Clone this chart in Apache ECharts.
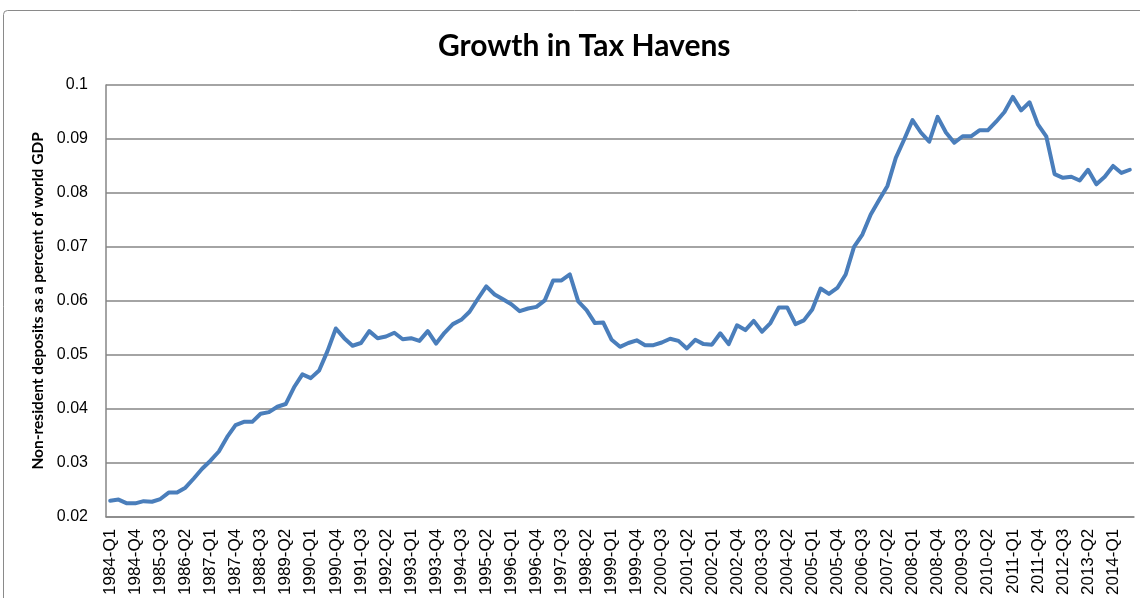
<!DOCTYPE html>
<html>
<head>
<meta charset="utf-8">
<script src="https://cdn.jsdelivr.net/npm/echarts@6/dist/echarts.min.js"></script>
<style>
html,body{margin:0;padding:0;background:#fff;}
#chart{width:1140px;height:598px;}
</style>
</head>
<body>
<div id="chart"></div>
<script>
// Quarter categories 1984-Q1 .. 2014-Q3
var categories = [
"1984-Q1","1984-Q2","1984-Q3","1984-Q4",
"1985-Q1","1985-Q2","1985-Q3","1985-Q4",
"1986-Q1","1986-Q2","1986-Q3","1986-Q4",
"1987-Q1","1987-Q2","1987-Q3","1987-Q4",
"1988-Q1","1988-Q2","1988-Q3","1988-Q4",
"1989-Q1","1989-Q2","1989-Q3","1989-Q4",
"1990-Q1","1990-Q2","1990-Q3","1990-Q4",
"1991-Q1","1991-Q2","1991-Q3","1991-Q4",
"1992-Q1","1992-Q2","1992-Q3","1992-Q4",
"1993-Q1","1993-Q2","1993-Q3","1993-Q4",
"1994-Q1","1994-Q2","1994-Q3","1994-Q4",
"1995-Q1","1995-Q2","1995-Q3","1995-Q4",
"1996-Q1","1996-Q2","1996-Q3","1996-Q4",
"1997-Q1","1997-Q2","1997-Q3","1997-Q4",
"1998-Q1","1998-Q2","1998-Q3","1998-Q4",
"1999-Q1","1999-Q2","1999-Q3","1999-Q4",
"2000-Q1","2000-Q2","2000-Q3","2000-Q4",
"2001-Q1","2001-Q2","2001-Q3","2001-Q4",
"2002-Q1","2002-Q2","2002-Q3","2002-Q4",
"2003-Q1","2003-Q2","2003-Q3","2003-Q4",
"2004-Q1","2004-Q2","2004-Q3","2004-Q4",
"2005-Q1","2005-Q2","2005-Q3","2005-Q4",
"2006-Q1","2006-Q2","2006-Q3","2006-Q4",
"2007-Q1","2007-Q2","2007-Q3","2007-Q4",
"2008-Q1","2008-Q2","2008-Q3","2008-Q4",
"2009-Q1","2009-Q2","2009-Q3","2009-Q4",
"2010-Q1","2010-Q2","2010-Q3","2010-Q4",
"2011-Q1","2011-Q2","2011-Q3","2011-Q4",
"2012-Q1","2012-Q2","2012-Q3","2012-Q4",
"2013-Q1","2013-Q2","2013-Q3","2013-Q4",
"2014-Q1","2014-Q2","2014-Q3"
];

// Non-resident deposits as a share of world GDP
var depositsShare = [
0.0230,0.0232,0.0225,0.0225,
0.0229,0.0228,0.0233,0.0245,
0.0245,0.0254,0.0271,0.0289,
0.0304,0.0321,0.0348,0.0370,
0.0376,0.0376,0.0391,0.0394,
0.0404,0.0409,0.0440,0.0464,
0.0457,0.0471,0.0507,0.0549,
0.0531,0.0517,0.0522,0.0544,
0.0531,0.0534,0.0541,0.0529,
0.0531,0.0526,0.0544,0.0521,
0.0541,0.0557,0.0565,0.0580,
0.0604,0.0627,0.0612,0.0603,
0.0594,0.0581,0.0586,0.0589,
0.0601,0.0638,0.0638,0.0649,
0.0599,0.0583,0.0559,0.0560,
0.0528,0.0515,0.0522,0.0527,
0.0518,0.0518,0.0523,0.0530,
0.0526,0.0512,0.0528,0.0520,
0.0519,0.0540,0.0520,0.0555,
0.0546,0.0563,0.0543,0.0559,
0.0588,0.0588,0.0557,0.0564,
0.0584,0.0623,0.0613,0.0624,
0.0649,0.0700,0.0723,0.0760,
0.0787,0.0813,0.0865,0.0899,
0.0935,0.0912,0.0895,0.0941,
0.0912,0.0893,0.0905,0.0905,
0.0916,0.0916,0.0932,0.0950,
0.0978,0.0953,0.0968,0.0927,
0.0905,0.0835,0.0828,0.0830,
0.0823,0.0843,0.0816,0.0830,
0.0850,0.0837,0.0843
];

var yMin = 0.02, yMax = 0.1, yStep = 0.01;
var titleText = "Growth in Tax Havens";
var yAxisTitle = "Non-resident deposits as a percent of world GDP";

var chart = echarts.init(document.getElementById('chart'), null, {renderer:'canvas'});
chart.setOption({
  backgroundColor: '#ffffff',
  animation: false,
  title: {
    text: titleText,
    left: 433,
    top: 26,
    textStyle: {fontFamily: 'Lato, "Open Sans", sans-serif', fontWeight: 'bold', fontSize: 30, color: '#000'}
  },
  graphic: [{
    type: 'rect',
    silent: true,
    shape: {x: 3.5, y: 10.5, width: 1200, height: 700, r: 4},
    style: {fill: 'none', stroke: '#8a8a8a', lineWidth: 1}
  }],
  grid: {left: 106, right: 6, top: 85, bottom: 80, containLabel: false},
  xAxis: {
    type: 'category',
    data: categories,
    boundaryGap: true,
    axisLine: {show: true, lineStyle: {color: '#868686', width: 1.5}},
    axisTick: {show: false},
    axisLabel: {
      interval: 2,
      rotate: 90,
      margin: 12,
      fontSize: 17,
      color: '#000',
      fontFamily: '"Liberation Sans", Arial, sans-serif'
    },
    splitLine: {show: false}
  },
  yAxis: {
    type: 'value',
    min: yMin,
    max: yMax,
    interval: yStep,
    name: yAxisTitle,
    nameLocation: 'middle',
    nameGap: 50,
    nameTextStyle: {fontFamily: 'Lato, "Open Sans", sans-serif', fontWeight: 'bold', fontSize: 15.5, color: '#000'},
    axisLine: {show: true, lineStyle: {color: '#868686', width: 1.5}},
    axisTick: {show: false},
    axisLabel: {
      margin: 18,
      fontSize: 16,
      color: '#000',
      fontFamily: '"Liberation Sans", Arial, sans-serif',
      formatter: function (v) { return String(parseFloat(v.toFixed(2))); }
    },
    splitLine: {show: true, lineStyle: {color: '#868686', width: 1.5}}
  },
  series: [{
    type: 'line',
    data: depositsShare,
    showSymbol: false,
    symbol: 'none',
    smooth: false,
    lineStyle: {color: '#4a7ebb', width: 4, cap: 'round', join: 'round'}
  }]
});
</script>
</body>
</html>
